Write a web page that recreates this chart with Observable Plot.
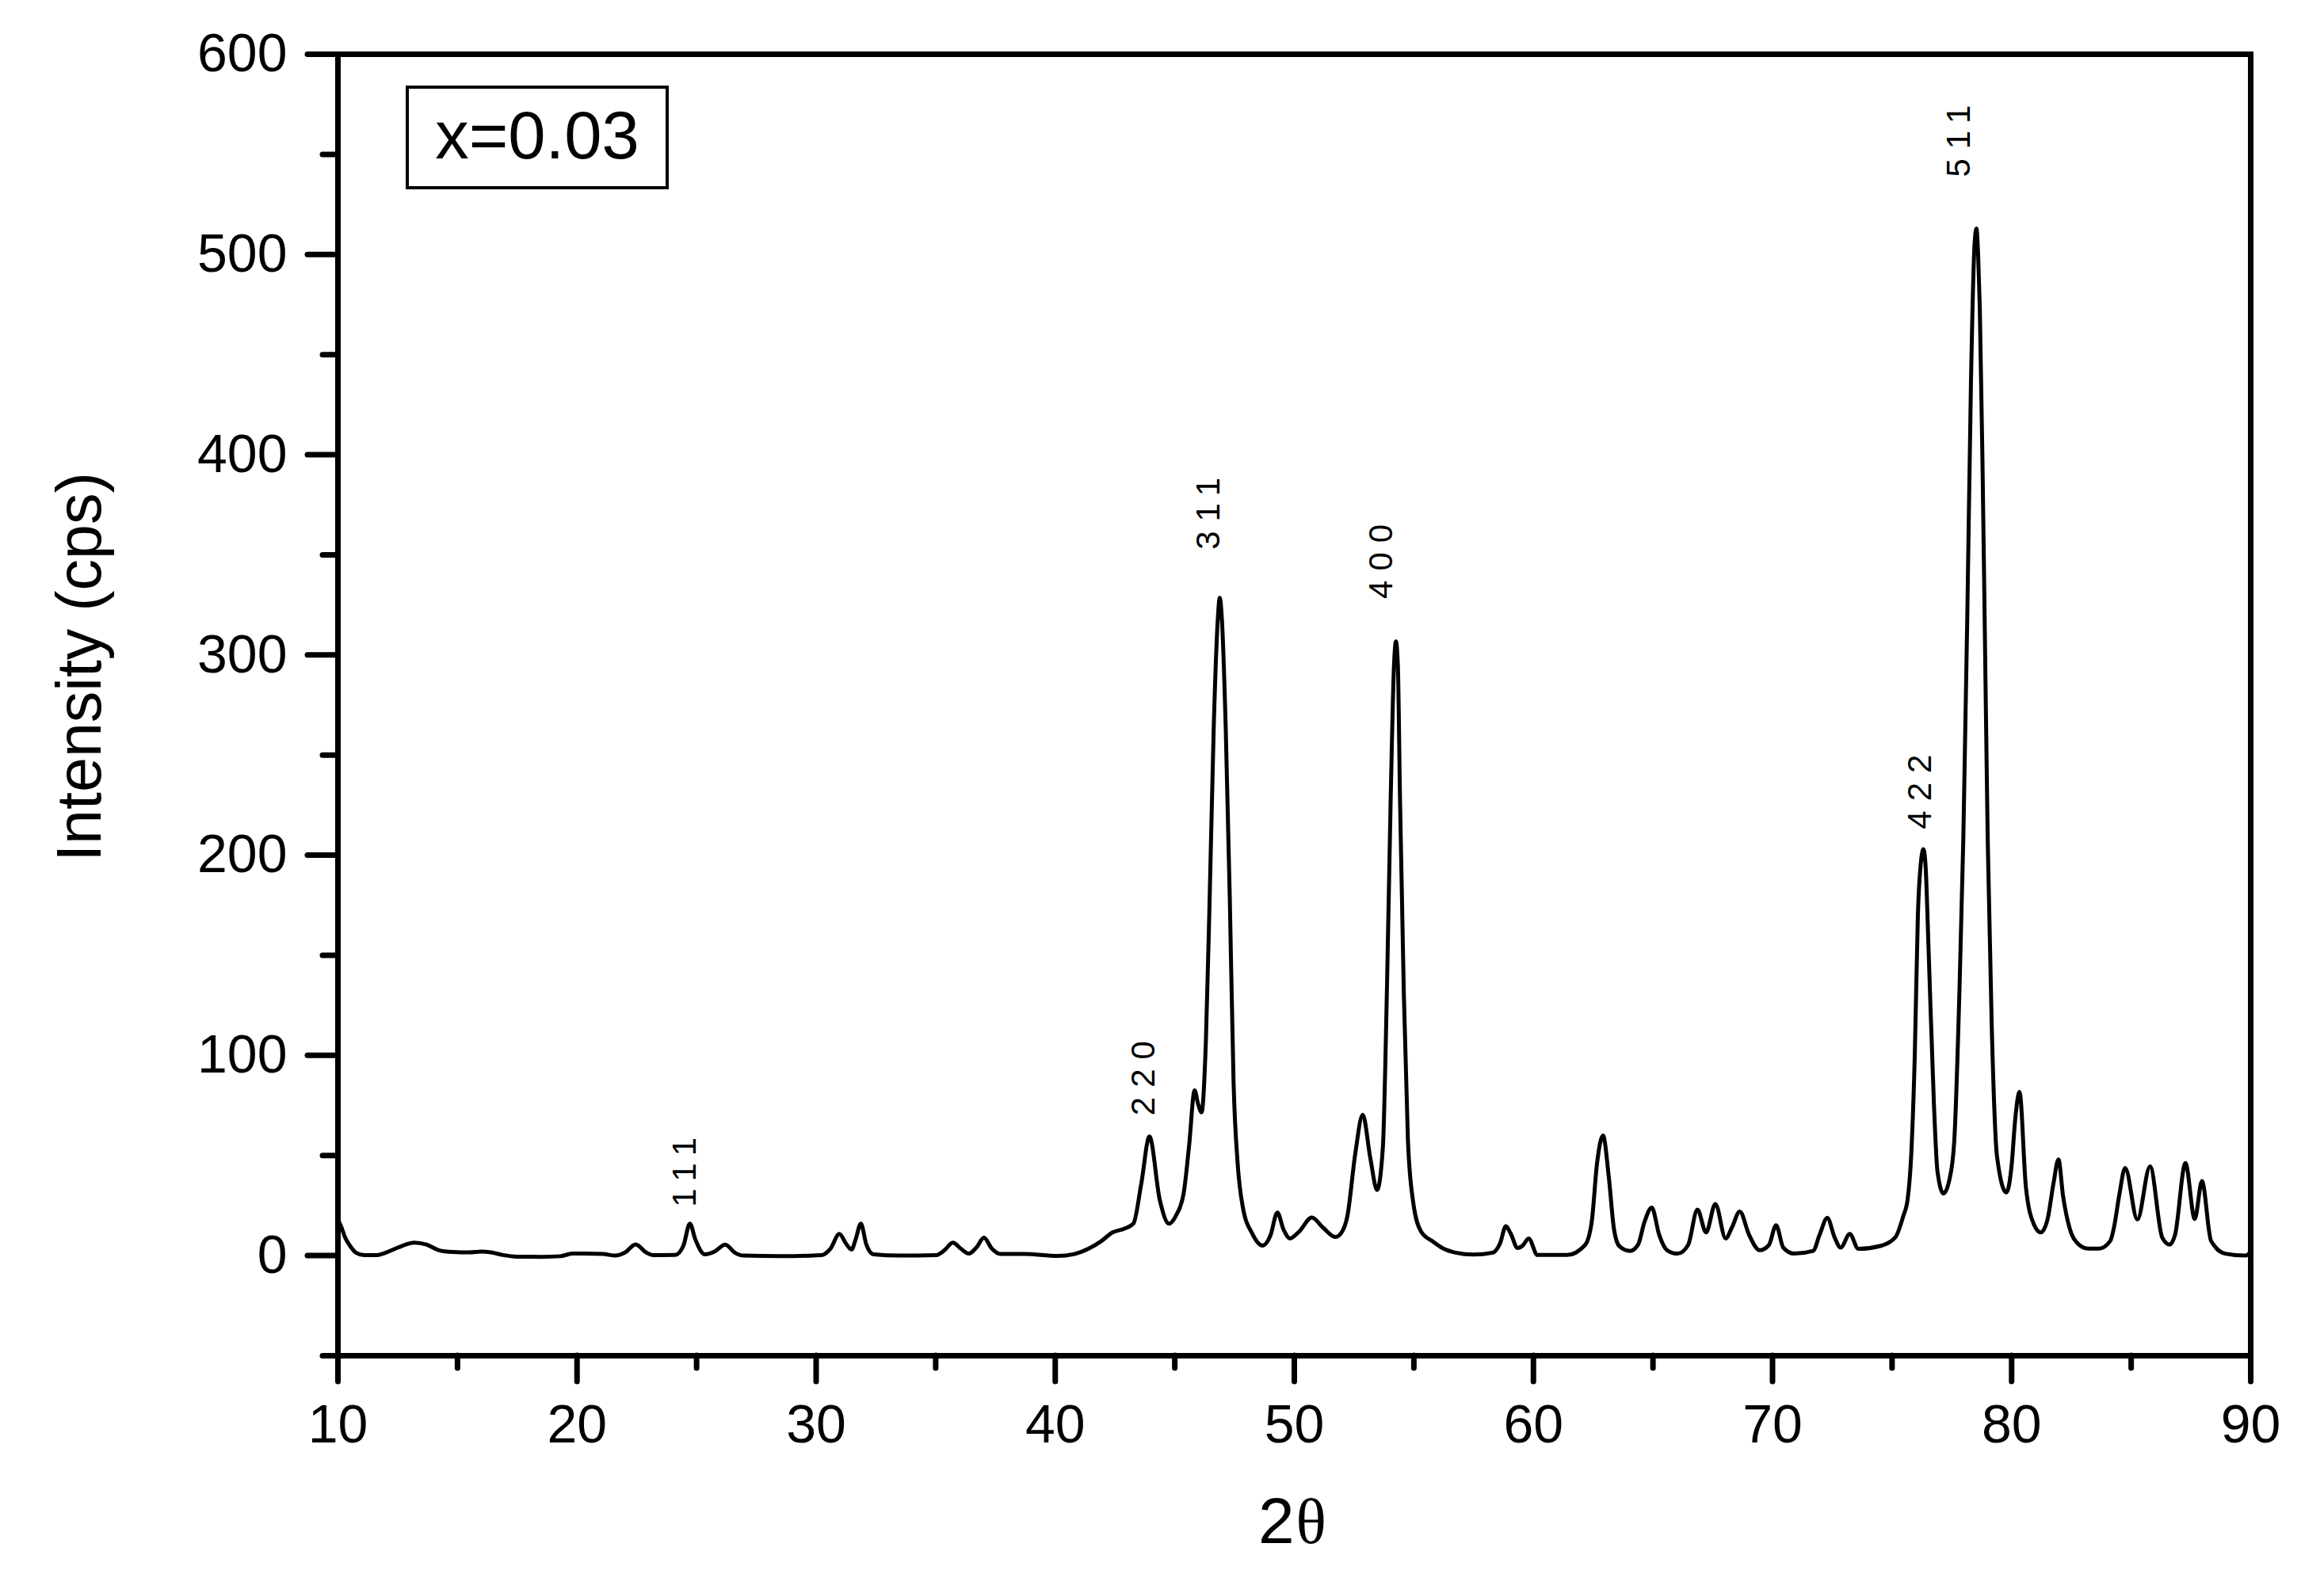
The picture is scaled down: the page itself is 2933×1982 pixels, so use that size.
<!DOCTYPE html>
<html>
<head>
<meta charset="utf-8">
<script src="https://cdn.jsdelivr.net/npm/d3@7"></script>
<script src="https://cdn.jsdelivr.net/npm/@observablehq/plot@0.6"></script>
<style>
  html, body { margin: 0; padding: 0; background: #fff; }
  svg { display: block; }
</style>
</head>
<body>
<div id="chart"></div>
<script>
// ---- data ----
const twoTheta = [
  10.0, 10.15, 10.3, 10.5, 10.75, 11.1, 11.6, 12.0, 12.5, 13.2, 13.7, 14.2, 14.8, 15.5, 16.0, 16.4, 16.9, 17.5, 18.5, 19.3,
  19.8, 20.3, 21.1, 21.6, 22.0, 22.45, 22.9, 23.2, 24.1, 24.45, 24.72, 24.95, 25.35, 25.75, 26.2, 26.6, 26.95, 28.5, 30.2, 30.6,
  30.97, 31.25, 31.48, 31.65, 31.87, 32.1, 32.4, 33.5, 35.0, 35.35, 35.72, 36.05, 36.39, 36.7, 37.02, 37.35, 37.7, 38.7, 40.1, 40.8,
  41.4, 41.9, 42.4, 42.9, 43.27, 43.6, 43.94, 44.37, 44.76, 45.05, 45.37, 45.6, 45.83, 45.97, 46.12, 46.3, 46.46, 46.63, 46.8, 46.88,
  46.97, 47.13, 47.3, 47.46, 47.63, 47.85, 48.24, 48.68, 49.0, 49.29, 49.55, 49.82, 50.2, 50.73, 51.2, 51.72, 52.0, 52.22, 52.55, 52.86,
  53.18, 53.46, 53.7, 53.87, 54.03, 54.17, 54.25, 54.33, 54.42, 54.58, 54.75, 54.97, 55.3, 55.8, 56.19, 56.74, 57.5, 58.3, 58.6, 58.85,
  59.05, 59.34, 59.55, 59.8, 60.17, 61.4, 62.16, 62.44, 62.66, 62.91, 63.15, 63.37, 63.6, 64.04, 64.37, 64.65, 64.95, 65.26, 65.59, 66.03,
  66.47, 66.86, 67.22, 67.61, 68.04, 68.3, 68.63, 69.02, 69.46, 69.85, 70.15, 70.45, 70.9, 71.7, 71.97, 72.29, 72.6, 72.85, 73.23, 73.59,
  74.53, 75.14, 75.47, 75.65, 75.8, 75.95, 76.08, 76.22, 76.31, 76.4, 76.53, 76.75, 76.9, 77.15, 77.4, 77.6, 77.82, 77.98, 78.15, 78.3,
  78.45, 78.53, 78.6, 78.67, 78.78, 78.89, 79.0, 79.17, 79.39, 79.78, 80.0, 80.15, 80.33, 80.6, 80.94, 81.22, 81.5, 81.75, 81.96, 82.15,
  82.5, 82.73, 83.2, 83.66, 84.13, 84.28, 84.5, 84.75, 85.26, 85.79, 86.3, 86.61, 86.84, 87.27, 87.66, 87.96, 88.34, 88.93, 89.78, 90.0
];
const intensity = [
  18, 14, 9, 5, 1.5, 0.2, 0.2, 1.5, 4, 6.5, 5.5, 2.8, 1.8, 1.6, 2, 1.6, 0.3, -0.5, -0.6, -0.3,
  1, 1, 0.8, 0, 1.5, 5.6, 1.5, 0.2, 0.3, 5, 16, 8, 0.6, 2, 5.5, 1.5, 0, -0.3, 0.2, 3.5,
  10.8, 6, 3, 8, 16, 5.5, 0.6, 0, 0.2, 2.5, 6.5, 3.5, 1, 4, 8.9, 3.5, 0.8, 0.8, -0.2, 0.8,
  3.5, 7, 11.6, 13.5, 16, 36, 59.5, 28, 16, 20, 31, 55, 82.5, 76, 71.6, 106.7, 179, 264, 318, 328.5,
  318, 264, 179, 86, 46, 24, 11, 5, 10, 21.5, 13, 8.6, 12, 19, 14, 9.3, 12, 19.8, 51, 70.4,
  48.6, 32.8, 53.4, 131, 228, 295, 306.7, 295, 228, 131, 58, 26.8, 12, 7, 3.8, 1.5, 0.5, 1.5, 6, 14.7,
  11, 3.8, 5, 8.6, 0.3, 0.3, 5.3, 17, 46, 60, 39.6, 13.2, 4.6, 2.3, 5.3, 17, 24, 10.4, 2.7, 1,
  5.3, 23, 11.6, 25.8, 8.6, 14, 22, 10.4, 2.7, 5.3, 15.2, 4, 1, 2.4, 10.4, 18.8, 9, 4, 10.8, 3.4,
  4.9, 9.2, 19.8, 28, 50, 100, 170, 198, 203, 195, 152, 76, 42, 31, 38, 57, 133, 208, 322, 436,
  505, 513, 500, 473, 398, 303, 208, 114, 49.5, 31.5, 45, 68, 81.7, 34, 15.4, 11.6, 18, 36, 48, 30,
  11, 6.5, 3.5, 3.5, 7.4, 14, 30, 43.8, 18, 44.6, 9, 5.5, 10.6, 46.2, 18.3, 37.2, 7.4, 1, 0, 2
];

// Miller-index labels (centre of each rotated label, in data units)
const hkl  = ["111", "220", "311", "400", "422", "511"];
const hklX = [24.52, 43.7, 46.42, 53.65, 76.18, 77.8];
const hklY = [44, 91, 373, 349, 234, 559];

// axis ticks
const xMajor = [10, 20, 30, 40, 50, 60, 70, 80, 90];
const xMinor = [15, 25, 35, 45, 55, 65, 75, 85];
const yMajor = [0, 100, 200, 300, 400, 500, 600];
const yMinor = [-50, 50, 150, 250, 350, 450, 550];

const xTitleMain = "2";
const xTitleGreek = "\u03B8";
const yTitle = "Intensity (cps)";
const sampleLabel = "x=0.03";

// ---- chart ----
const rows = twoTheta.map((t, i) => ({t, v: intensity[i]}));
const sans = "'Liberation Sans', Arial, Helvetica, sans-serif";
const serif = "'Liberation Serif', 'Times New Roman', serif";

function legendBox(index, scales, values, dimensions) {
  const g = d3.create("svg:g");
  const x0 = dimensions.marginLeft + 88;
  const y0 = dimensions.marginTop + 42;
  g.append("rect")
    .attr("x", x0).attr("y", y0)
    .attr("width", 328).attr("height", 127)
    .attr("fill", "white").attr("stroke", "black").attr("stroke-width", 4);
  g.append("text")
    .attr("x", x0 + 164).attr("y", y0 + 90)
    .attr("text-anchor", "middle")
    .attr("font-family", sans)
    .attr("font-size", 85)
    .attr("fill", "black")
    .text(sampleLabel);
  return g.node();
}

const svg = Plot.plot({
  width: 2933,
  height: 1982,
  marginLeft: 426,
  marginRight: 93,
  marginTop: 68,
  marginBottom: 271,
  x: {domain: [10, 90]},
  y: {domain: [-50, 600]},
  style: {fontFamily: sans, fontSize: "68px", background: "white", color: "black"},
  marks: [
    Plot.line(rows, {x: "t", y: "v", curve: "monotone-x", stroke: "black", strokeWidth: 5}),
    Plot.text(hkl.map((h, i) => ({h, x: hklX[i], y: hklY[i]})), {
      x: "x", y: "y", text: "h", rotate: -90,
      textAnchor: "middle", lineAnchor: "middle",
      fontSize: 42, fill: "black"
    }),
    legendBox,
    Plot.frame({stroke: "black", strokeWidth: 7}),
    Plot.axisY(yMinor, {anchor: "left", tickSize: 19, tickFormat: () => "", strokeWidth: 7, strokeLinecap: "round", label: null}),
    Plot.axisY(yMajor, {anchor: "left", tickSize: 38, tickPadding: 26, strokeWidth: 7, strokeLinecap: "round", fontSize: 68, label: null}),
    Plot.axisX(xMinor, {anchor: "bottom", tickSize: 16, tickFormat: () => "", strokeWidth: 7, strokeLinecap: "round", label: null}),
    Plot.axisX(xMajor, {anchor: "bottom", tickSize: 33, tickPadding: 28, strokeWidth: 7, strokeLinecap: "round", fontSize: 68, label: null}),
    Plot.text([yTitle], {text: d => d, frameAnchor: "left", rotate: -90, textAnchor: "middle", lineAnchor: "bottom",
      dx: -300, dy: -48, fontSize: 79, fontFamily: sans, fill: "black"}),
    Plot.text([xTitleMain], {text: d => d, frameAnchor: "bottom", textAnchor: "end", lineAnchor: "bottom",
      dx: 0, dy: 236, fontSize: 82, fontFamily: sans, fill: "black"}),
    Plot.text([xTitleGreek], {text: d => d, frameAnchor: "bottom", textAnchor: "start", lineAnchor: "bottom",
      dx: 2, dy: 236, fontSize: 80, fontFamily: serif, fill: "black"})
  ]
});

// widen the spacing of the Miller-index labels
d3.select(svg).selectAll("g[font-size='42'] text, text[font-size='42']").style("letter-spacing", "12px");
document.getElementById("chart").appendChild(svg);
</script>
</body>
</html>
